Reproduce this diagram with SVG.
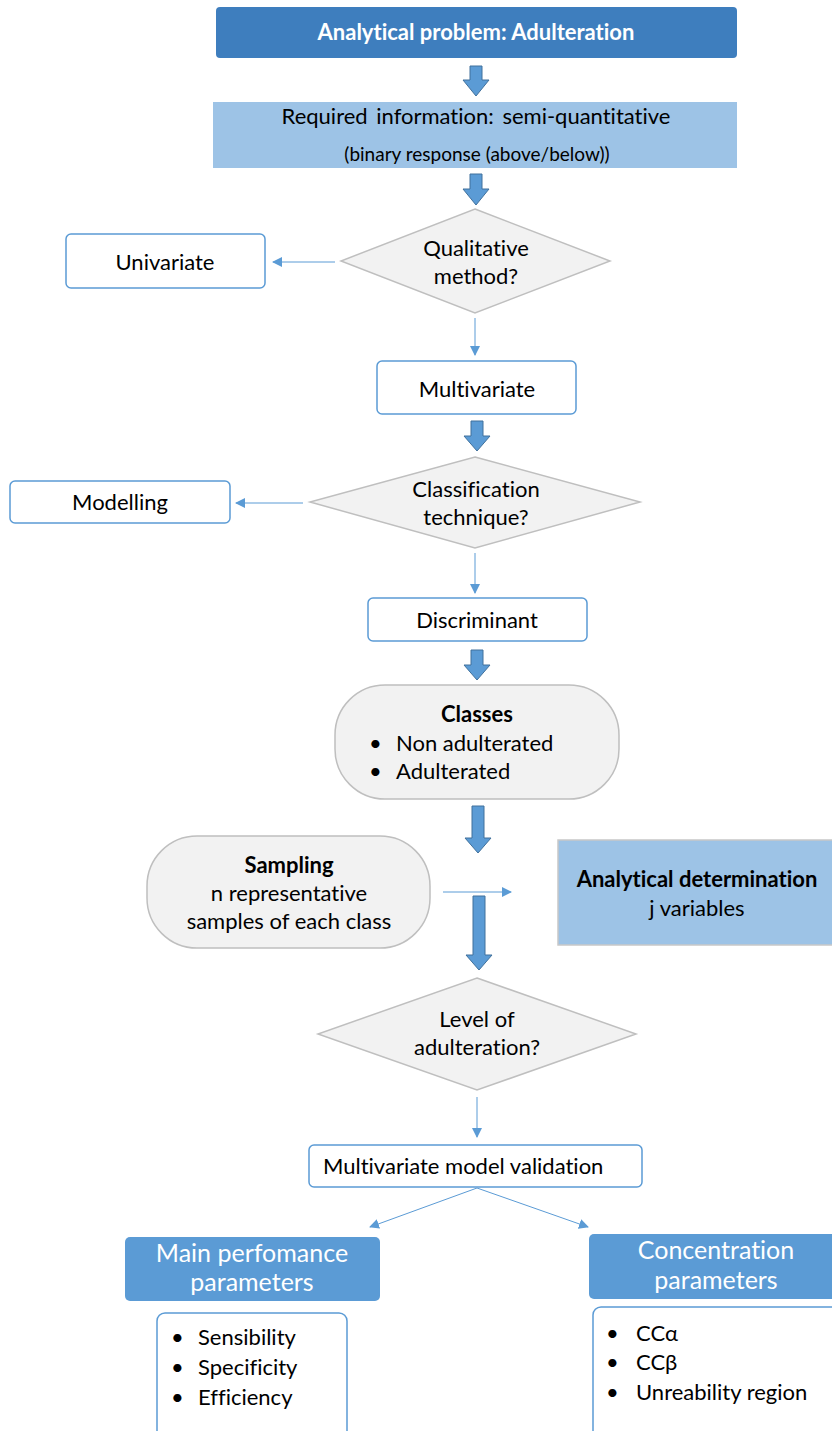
<svg xmlns="http://www.w3.org/2000/svg" width="832" height="1431" viewBox="0 0 832 1431">
  <style>
    text { font-family: Lato, "Open Sans", "Liberation Sans", sans-serif; fill: #000; font-size: 22px; font-variant-ligatures: none; }
    .c { text-anchor: middle; }
    .w { fill: #fff; }
    .b { font-weight: bold; }
    .big { font-size: 25px; }
    .small { font-size: 19px; }
    .box { fill: #fff; stroke: #5b9bd5; stroke-width: 1.5; }
    .dia { fill: #f2f2f2; stroke: #bfbfbf; stroke-width: 1.5; }
    .blk { fill: #5b9bd5; stroke: #41719c; stroke-width: 1; }
    .thin { stroke: #5b9bd5; stroke-width: 1; fill: none; marker-end: url(#tri); }
  </style>
  <defs>
    <marker id="tri" viewBox="0 0 10 10" refX="9" refY="5" markerWidth="10" markerHeight="10" markerUnits="userSpaceOnUse" orient="auto">
      <path d="M0,0 L10,5 L0,10 Z" fill="#5b9bd5"/>
    </marker>
  </defs>

  <!-- connectors: block arrows along the main flow, thin arrows for branches -->
  <g id="connectors">
    <path class="blk" d="M470,66 H482 V80 H489 L476,96 L463,80 H470 Z"/>
    <path class="blk" d="M470,174 H482 V189 H489 L476,205 L463,189 H470 Z"/>
    <path class="blk" d="M471,421 H483 V436 H490 L477,451 L464,436 H471 Z"/>
    <path class="blk" d="M471,650 H483 V665 H490 L477,680 L464,665 H471 Z"/>
    <path class="blk" d="M472,806 H484 V838 H491 L478,853 L465,838 H472 Z"/>
    <path class="blk" d="M473,896 H485 V955 H492 L479,970 L466,955 H473 Z"/>
    <line class="thin" x1="335" y1="262" x2="273" y2="262"/>
    <line class="thin" x1="475" y1="318" x2="475" y2="355"/>
    <line class="thin" x1="303" y1="503" x2="236" y2="503"/>
    <line class="thin" x1="475" y1="553" x2="475" y2="593"/>
    <line class="thin" x1="443" y1="892" x2="511" y2="892"/>
    <line class="thin" x1="477" y1="1097" x2="477" y2="1137"/>
    <line class="thin" x1="477" y1="1188" x2="370" y2="1227"/>
    <line class="thin" x1="477" y1="1188" x2="588" y2="1227"/>
  </g>

  <g id="problem">
    <rect x="216" y="7" width="521" height="51" rx="4" fill="#3e7ebe"/>
    <text class="c w b" x="476" y="40">Analytical problem: Adulteration</text>
  </g>

  <g id="required">
    <rect x="213" y="102" width="524" height="66" fill="#9dc3e6"/>
    <text class="c" x="476" y="124" word-spacing="3">Required information: semi-quantitative</text>
    <text class="c small" x="477" y="161">(binary response (above/below))</text>
  </g>

  <g id="qualitative">
    <polygon class="dia" points="475,209 610,261 475,313 341,261"/>
    <text class="c" x="476" y="256">Qualitative</text>
    <text class="c" x="476" y="284">method?</text>
  </g>

  <g id="univariate">
    <rect class="box" x="66" y="234" width="199" height="54" rx="5"/>
    <text class="c" x="165" y="270">Univariate</text>
  </g>

  <g id="multivariate">
    <rect class="box" x="377" y="361" width="199" height="53" rx="5"/>
    <text class="c" x="477" y="397">Multivariate</text>
  </g>

  <g id="classification">
    <polygon class="dia" points="475,457 640,502 475,548 310,502"/>
    <text class="c" x="476" y="497">Classification</text>
    <text class="c" x="476" y="525">technique?</text>
  </g>

  <g id="modelling">
    <rect class="box" x="10" y="481" width="220" height="42" rx="5"/>
    <text class="c" x="120" y="510">Modelling</text>
  </g>

  <g id="discriminant">
    <rect class="box" x="368" y="598" width="219" height="43" rx="5"/>
    <text class="c" x="477" y="628">Discriminant</text>
  </g>

  <g id="classes">
    <rect class="dia" x="335" y="685" width="284" height="114" rx="50" ry="50"/>
    <text class="c b" x="477" y="722">Classes</text>
    <text x="369" y="751">•</text>
    <text x="396" y="751">Non adulterated</text>
    <text x="369" y="779">•</text>
    <text x="396" y="779">Adulterated</text>
  </g>

  <g id="sampling">
    <rect class="dia" x="147" y="836" width="283" height="112" rx="50" ry="50"/>
    <text class="c b" x="289" y="873">Sampling</text>
    <text class="c" x="289" y="901">n representative</text>
    <text class="c" x="289" y="929">samples of each class</text>
  </g>

  <g id="determination">
    <rect x="558" y="840" width="276" height="105" fill="#9dc3e6" stroke="#c8c8c8" stroke-width="1.5"/>
    <text class="c b" x="697" y="887">Analytical determination</text>
    <text class="c" x="697" y="916">j variables</text>
  </g>

  <g id="level">
    <polygon class="dia" points="477,978 636,1034 477,1090 318,1034"/>
    <text class="c" x="477" y="1027">Level of</text>
    <text class="c" x="477" y="1055">adulteration?</text>
  </g>

  <g id="validation">
    <rect class="box" x="309" y="1145" width="333" height="42" rx="5"/>
    <text x="323" y="1174">Multivariate model validation</text>
  </g>

  <g id="performance">
    <rect x="125" y="1237" width="255" height="64" rx="5" fill="#5b9bd5"/>
    <text class="c w big" x="252" y="1262">Main perfomance</text>
    <text class="c w big" x="252" y="1291">parameters</text>
  </g>

  <g id="concentration">
    <rect x="589" y="1234" width="250" height="65" rx="5" fill="#5b9bd5"/>
    <text class="c w big" x="716" y="1259">Concentration</text>
    <text class="c w big" x="716" y="1289">parameters</text>
  </g>

  <g id="performance-list">
    <rect class="box" x="157" y="1313" width="190" height="130" rx="8"/>
    <text x="171" y="1345">•</text>
    <text x="198" y="1345">Sensibility</text>
    <text x="171" y="1375">•</text>
    <text x="198" y="1375">Specificity</text>
    <text x="171" y="1405">•</text>
    <text x="198" y="1405">Efficiency</text>
  </g>

  <g id="concentration-list">
    <rect class="box" x="593" y="1307" width="250" height="136" rx="8"/>
    <text x="606" y="1341">•</text>
    <text x="636" y="1341">CCα</text>
    <text x="606" y="1370">•</text>
    <text x="636" y="1370">CCβ</text>
    <text x="606" y="1400">•</text>
    <text x="636" y="1400">Unreability region</text>
  </g>
</svg>
